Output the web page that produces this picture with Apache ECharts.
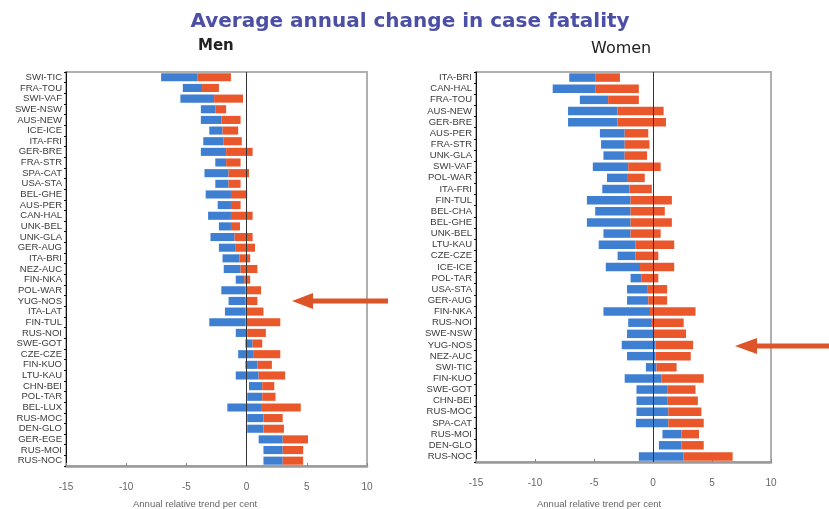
<!DOCTYPE html>
<html><head><meta charset="utf-8">
<script src="https://cdn.jsdelivr.net/npm/echarts@6/dist/echarts.min.js"></script>
<style>html,body{margin:0;padding:0;background:#fff}#c{width:829px;height:509px}</style>
</head><body><div id="c"></div>
<script>
const menCats = ['SWI-TIC','FRA-TOU','SWI-VAF','SWE-NSW','AUS-NEW','ICE-ICE','ITA-FRI','GER-BRE','FRA-STR','SPA-CAT','USA-STA','BEL-GHE','AUS-PER','CAN-HAL','UNK-BEL','UNK-GLA','GER-AUG','ITA-BRI','NEZ-AUC','FIN-NKA','POL-WAR','YUG-NOS','ITA-LAT','FIN-TUL','RUS-NOI','SWE-GOT','CZE-CZE','FIN-KUO','LTU-KAU','CHN-BEI','POL-TAR','BEL-LUX','RUS-MOC','DEN-GLO','GER-EGE','RUS-MOI','RUS-NOC'];
const menLow  = [-7.1,-5.3,-5.5,-3.8,-3.8,-3.1,-3.6,-3.8,-2.6,-3.5,-2.6,-3.4,-2.4,-3.2,-2.3,-3.0,-2.3,-2.0,-1.9,-0.9,-2.1,-1.5,-1.8,-3.1,-0.9,-0.1,-0.7,-0.1,-0.9,0.2,0.05,-1.6,0.05,0.05,1.0,1.4,1.4];
const menEst  = [-4.1,-3.7,-2.7,-2.6,-2.1,-2.0,-1.9,-1.7,-1.7,-1.5,-1.5,-1.3,-1.3,-1.3,-1.3,-1.0,-0.9,-0.6,-0.5,-0.2,-0.1,-0.1,-0.1,-0.1,0.05,0.5,0.6,0.9,1.0,1.3,1.3,1.2,1.4,1.4,3.0,3.0,3.0];
const menHigh = [-1.3,-2.3,-0.3,-1.7,-0.5,-0.7,-0.4,0.5,-0.5,0.2,-0.5,0.05,-0.5,0.5,-0.55,0.5,0.7,0.3,0.9,0.3,1.2,0.9,1.4,2.8,1.6,1.3,2.8,2.1,3.2,2.3,2.4,4.5,3.0,3.1,5.1,4.7,4.7];

const womenCats = ['ITA-BRI','CAN-HAL','FRA-TOU','AUS-NEW','GER-BRE','AUS-PER','FRA-STR','UNK-GLA','SWI-VAF','POL-WAR','ITA-FRI','FIN-TUL','BEL-CHA','BEL-GHE','UNK-BEL','LTU-KAU','CZE-CZE','ICE-ICE','POL-TAR','USA-STA','GER-AUG','FIN-NKA','RUS-NOI','SWE-NSW','YUG-NOS','NEZ-AUC','SWI-TIC','FIN-KUO','SWE-GOT','CHN-BEI','RUS-MOC','SPA-CAT','RUS-MOI','DEN-GLO','RUS-NOC'];
const womenLow  = [-7.1,-8.5,-6.2,-7.2,-7.2,-4.5,-4.4,-4.2,-5.1,-3.9,-4.3,-5.6,-4.9,-5.6,-4.2,-4.6,-3.0,-4.0,-1.9,-2.2,-2.2,-4.2,-2.1,-2.2,-2.65,-2.2,-0.6,-2.4,-1.4,-1.4,-1.4,-1.45,0.8,0.5,-1.2];
const womenEst  = [-4.9,-4.9,-3.8,-3.0,-3.0,-2.4,-2.4,-2.4,-2.1,-2.2,-2.0,-1.9,-1.9,-1.9,-1.9,-1.5,-1.5,-1.1,-1.0,-0.5,-0.4,-0.25,-0.1,0.0,0.2,0.2,0.3,0.7,1.2,1.2,1.3,1.3,2.4,2.4,2.6];
const womenHigh = [-2.8,-1.2,-1.2,0.9,1.1,-0.4,-0.3,-0.5,0.65,-0.7,-0.1,1.6,1.0,1.6,0.65,1.8,0.45,1.8,0.45,1.2,1.2,3.6,2.6,2.8,3.4,3.2,2.0,4.3,3.6,3.8,4.1,4.3,3.9,4.3,6.75];

const xTicks = [-15,-10,-5,0,5,10];
const BLUE = '#3f7fd2', RED = '#e9572a';

function rangeData(a, b) { return a.map((v, i) => [v, b[i], i]); }
function rangeSeries(data, color, gi) {
  return {
    type: 'custom', xAxisIndex: gi, yAxisIndex: gi, data: data,
    encode: { x: [0, 1], y: 2 },
    renderItem: function (params, api) {
      const idx = api.value(2);
      const p0 = api.coord([api.value(0), idx]);
      const p1 = api.coord([api.value(1), idx]);
      const h = api.size([0, 1])[1] * 0.76;
      return { type: 'rect', shape: { x: Math.min(p0[0], p1[0]), y: p0[1] - h / 2, width: Math.abs(p1[0] - p0[0]), height: h },
        style: { fill: color } };
    }
  };
}
function xAx(gi) {
  return { gridIndex: gi, type: 'value', min: -15, max: 10, interval: 5,
    axisLine: { show: true, lineStyle: { color: '#9a9a9a', width: 2.5 } },
    axisTick: { show: true, inside: true, length: 3, lineStyle: { color: '#888' } },
    axisLabel: { color: '#666', fontSize: 10, fontFamily: 'Liberation Sans', margin: 16,
      formatter: v => xTicks.indexOf(v) >= 0 ? String(v) : '' },
    splitLine: { show: false } };
}
function yAx(gi, cats) {
  return { gridIndex: gi, type: 'category', data: cats, inverse: true,
    axisLine: { show: true, onZero: false, lineStyle: { color: '#111', width: 1 } },
    axisTick: { show: true, length: 2, lineStyle: { color: '#111' } },
    axisLabel: { color: '#3a3a3a', fontSize: 9.5, fontFamily: 'Liberation Sans', margin: 4, interval: 0 } };
}
function zeroLine(gi) {
  return { type: 'line', xAxisIndex: gi, yAxisIndex: gi, data: [], silent: true,
    markLine: { symbol: 'none', silent: true, label: { show: false },
      lineStyle: { color: '#333', width: 1, type: 'solid' }, data: [{ xAxis: 0 }] } };
}

const chart = echarts.init(document.getElementById('c'), null, { renderer: 'canvas' });
chart.setOption({
  animation: false,
  backgroundColor: '#fff',
  title: [
    { text: 'Average annual change in case fatality', left: 405, top: 7, textAlign: 'center',
      textStyle: { color: '#4b50a6', fontSize: 20, fontWeight: 'bold', fontFamily: 'DejaVu Sans' } },
    { text: 'Men', left: 193, top: 34, textStyle: { color: '#222', fontSize: 15, fontWeight: 'bold', fontFamily: 'DejaVu Sans' } },
    { text: 'Women', left: 586, top: 36, textStyle: { color: '#222', fontSize: 16, fontWeight: 'normal', fontFamily: 'DejaVu Sans' } }
  ],
  grid: [
    { left: 66, top: 72, width: 301, height: 394, show: true, borderColor: '#b0b0b0', borderWidth: 2 },
    { left: 476, top: 72, width: 295, height: 390, show: true, borderColor: '#b0b0b0', borderWidth: 2 }
  ],
  xAxis: [xAx(0), xAx(1)],
  yAxis: [yAx(0, menCats), yAx(1, womenCats)],
  series: [
    rangeSeries(rangeData(menLow, menEst), BLUE, 0),
    rangeSeries(rangeData(menEst, menHigh), RED, 0),
    rangeSeries(rangeData(womenLow, womenEst), BLUE, 1),
    rangeSeries(rangeData(womenEst, womenHigh), RED, 1),
    zeroLine(0), zeroLine(1)
  ],
  graphic: [
    { type: 'polygon', shape: { points: [[292,301],[313,293],[313,298.5],[388,298.5],[388,303.5],[313,303.5],[313,309]] }, style: { fill: '#dd5428' } },
    { type: 'polygon', shape: { points: [[735,346],[757,338],[757,343.5],[829,343.5],[829,348.5],[757,348.5],[757,354]] }, style: { fill: '#dd5428' } },
    { type: 'text', left: 133, top: 499, style: { text: 'Annual relative trend per cent', fill: '#666', font: '9.5px "Liberation Sans"' } },
    { type: 'text', left: 537, top: 499, style: { text: 'Annual relative trend per cent', fill: '#666', font: '9.5px "Liberation Sans"' } }
  ]
});
</script></body></html>
